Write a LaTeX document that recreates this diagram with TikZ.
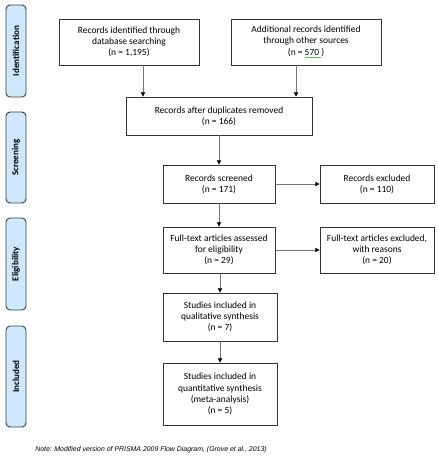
\documentclass[tikz,border=0pt]{standalone}
\usepackage{fontspec}
\setmainfont{Carlito}
\newfontfamily\notefont{Liberation Sans}
\usetikzlibrary{arrows.meta,calc}
\definecolor{sidefill}{HTML}{CDE8FB}
\definecolor{spell}{HTML}{5FB35F}
\begin{document}
\begin{tikzpicture}[x=0.75pt,y=-0.75pt,
  box/.style={draw=black!80, line width=0.6pt, fill=white, align=center,
    font=\fontsize{7.1}{8.4}\selectfont, inner sep=0pt},
  side/.style={draw=black!75, line width=0.7pt, fill=sidefill, rounded corners=3pt,
    minimum width=20*0.75pt, inner sep=0pt,
    font=\bfseries\fontsize{6.8}{8}\selectfont},
  arr/.style={draw=black!55, line width=0.6pt, -{Triangle[length=3.2pt,width=3.2pt,color=black]}}]
\useasboundingbox (0,0) rectangle (437,459);
\fill[white] (0,0) rectangle (437,459);

% side labels
\node[side, minimum height=92*0.75pt] (sid) at (16,51) {\rotatebox{90}{Identification}};
\node[side, minimum height=91*0.75pt] (sscr) at (16,157.5) {\rotatebox{90}{Screening}};
\node[side, minimum height=92*0.75pt] (selg) at (16,264) {\rotatebox{90}{Eligibility}};
\node[side, minimum height=101*0.75pt] (sinc) at (16,376.5) {\rotatebox{90}{Included}};

% boxes
\node[box, minimum width=140*0.75pt, minimum height=46*0.75pt] (b1) at (129,42)
  {Records identified through\\database searching\\(n = 1,195)};
\node[box, minimum width=150*0.75pt, minimum height=46*0.75pt] (b2) at (306,42)
  {Additional records identified\\through other sources\\(n = {\color{spell}\underline{\color{black}570 }})};
\node[box, minimum width=186*0.75pt, minimum height=38*0.75pt] (b3) at (219,116)
  {Records after duplicates removed\\(n = 166)};
\node[box, minimum width=112*0.75pt, minimum height=38*0.75pt] (b4) at (219,184)
  {Records screened\\(n = 171)};
\node[box, minimum width=114*0.75pt, minimum height=38*0.75pt] (b5) at (377,184)
  {Records excluded\\(n = 110)};
\node[box, minimum width=112*0.75pt, minimum height=46*0.75pt] (b6) at (219,250)
  {Full-text articles assessed\\for eligibility\\(n = 29)};
\node[box, minimum width=114*0.75pt, minimum height=46*0.75pt] (b7) at (377,250)
  {Full-text articles excluded,\\with reasons\\(n = 20)};
\node[box, minimum width=114*0.75pt, minimum height=48*0.75pt] (b8) at (220,317)
  {Studies included in\\qualitative synthesis\\(n = 7)};
\node[box, minimum width=114*0.75pt, minimum height=62*0.75pt] (b9) at (220,394)
  {Studies included in\\quantitative synthesis\\(meta-analysis)\\(n = 5)};

% note
\node[anchor=west, inner sep=0pt, font=\notefont\itshape\fontsize{5.2}{6}\selectfont] (note) at (35,450)
  {Note: Modified version of PRISMA 2009 Flow Diagram, (Grove et al., 2013)};

% connectors
\coordinate (c1) at (143,0);
\coordinate (c2) at (296,0);
\draw[arr] (c1 |- b1.south) -- (c1 |- b3.north);
\draw[arr] (c2 |- b2.south) -- (c2 |- b3.north);
\draw[arr] (b3.south) -- (b4.north);
\draw[arr] (b4.south) -- (b6.north);
\draw[arr] (b6.south -| b8.north) -- (b8.north);
\draw[arr] (b8.south) -- (b9.north);
\draw[arr] (b4.east) -- (b5.west);
\draw[arr] (b6.east) -- (b7.west);
\end{tikzpicture}
\end{document}
